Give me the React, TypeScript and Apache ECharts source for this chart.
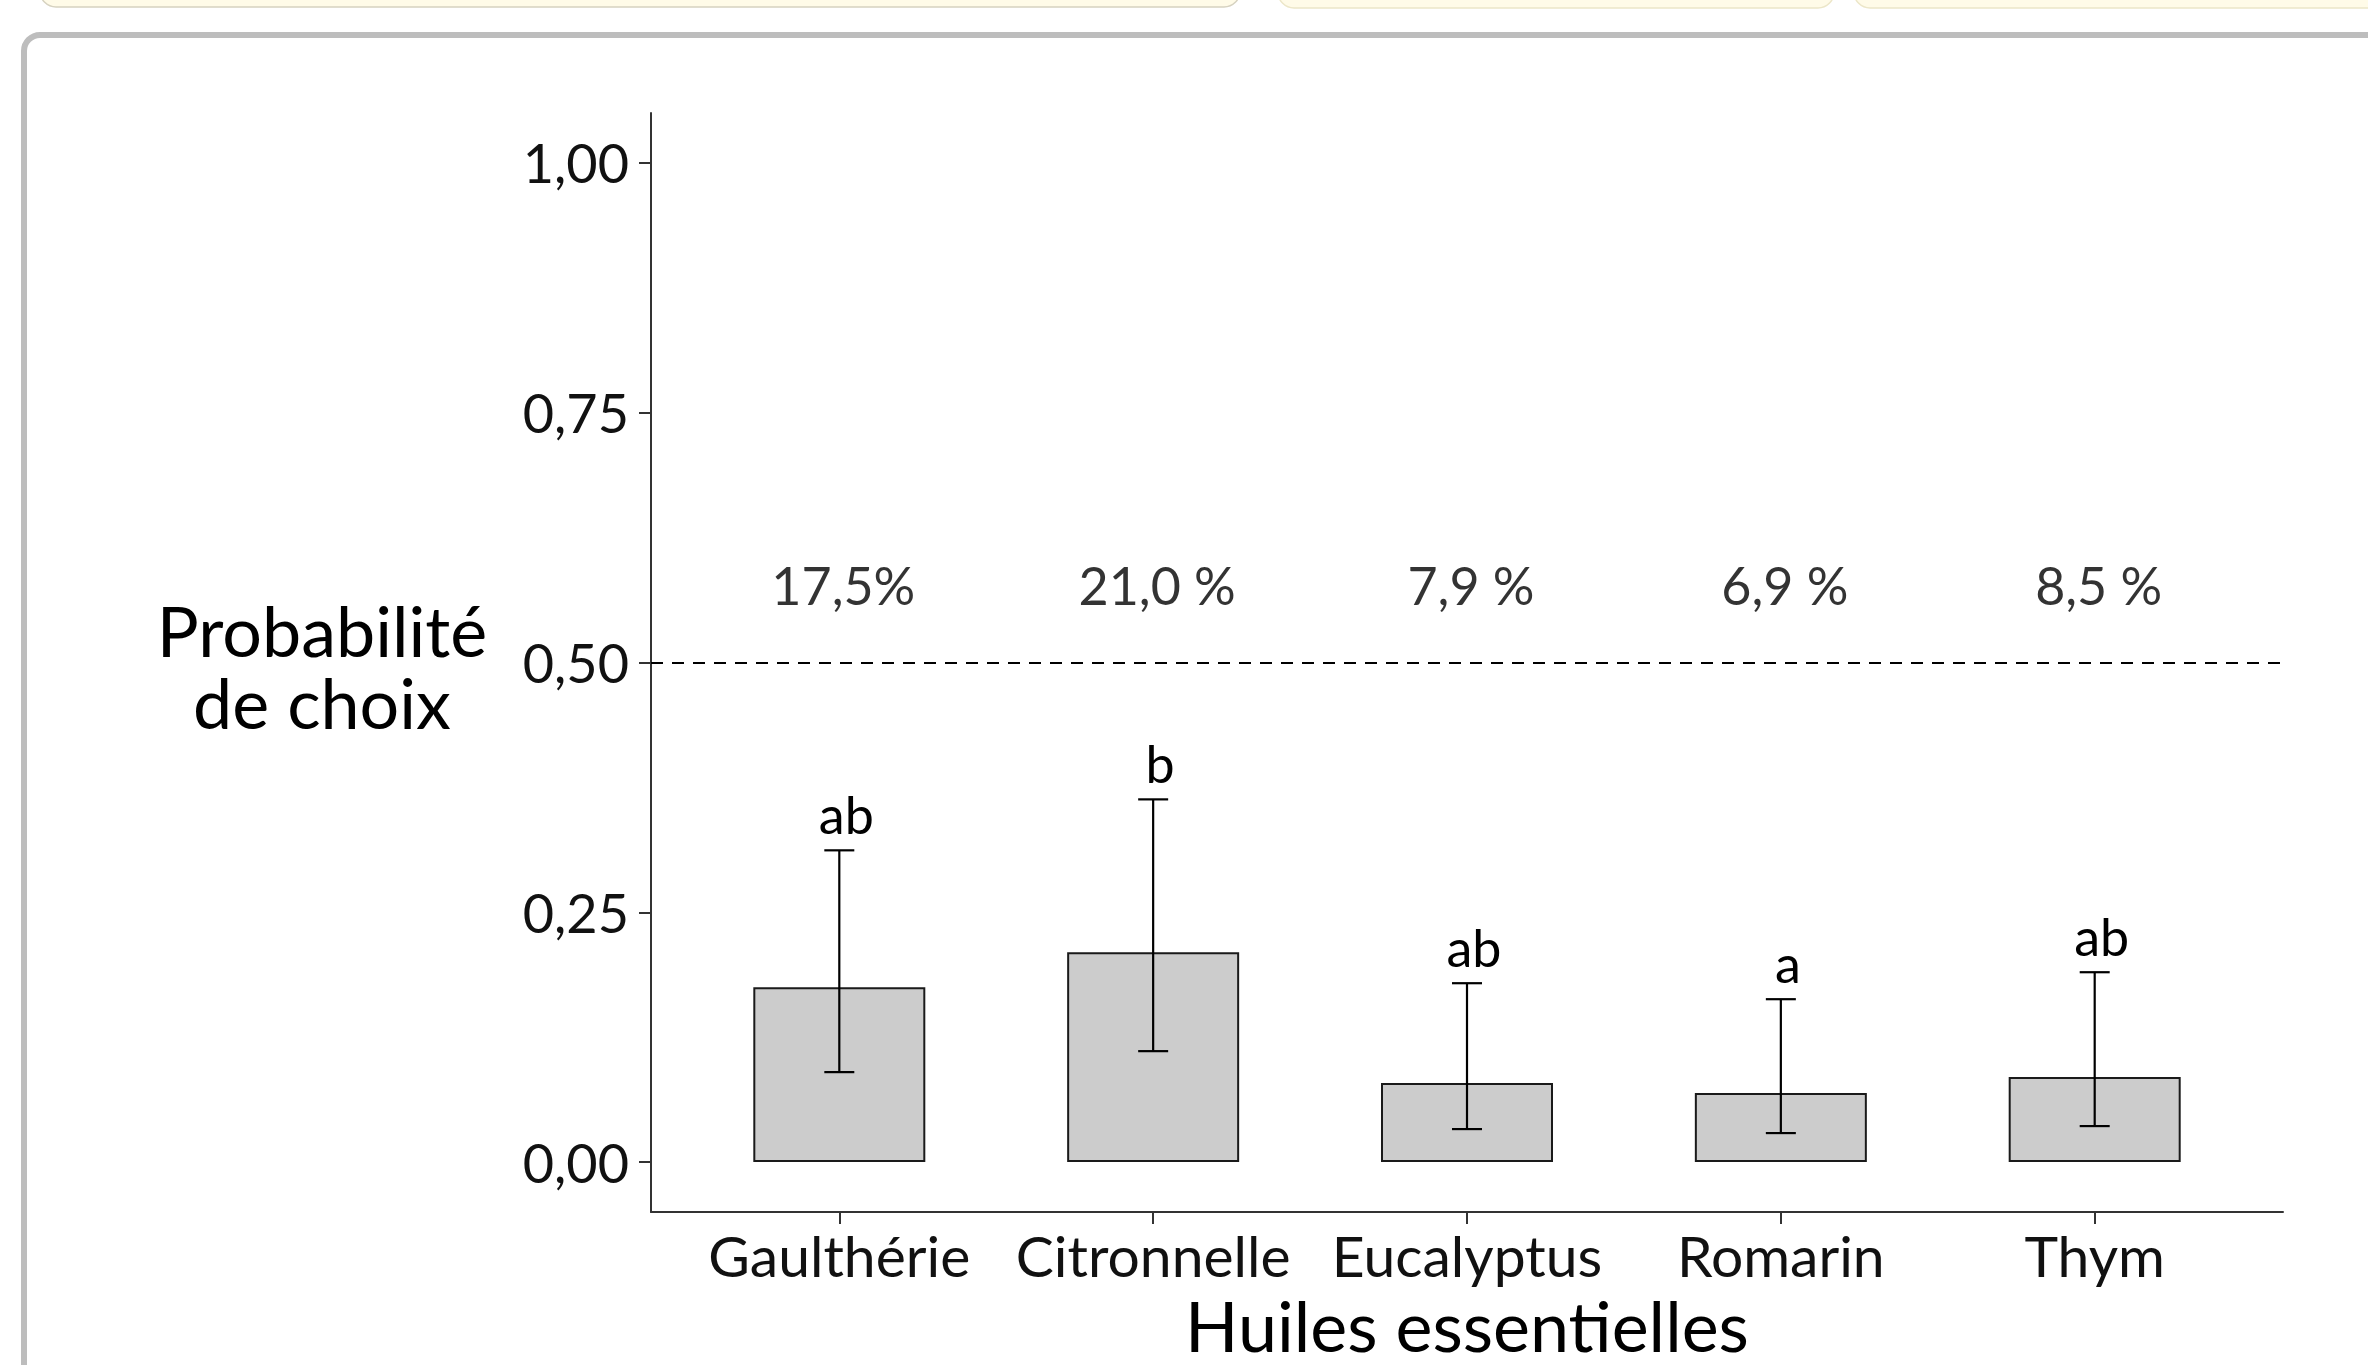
import React, { useEffect, useRef } from "react";
import * as echarts from "echarts";

const categories = ["Gaulthérie", "Citronnelle", "Eucalyptus", "Romarin", "Thym"];
const probabilities = [0.175, 0.21, 0.079, 0.069, 0.085];
const ciLower = [0.09, 0.111, 0.033, 0.029, 0.036];
const ciUpper = [0.312, 0.363, 0.179, 0.163, 0.19];
const groupLetters = ["ab", "b", "ab", "a", "ab"];
const percentLabels = ["17,5%", "21,0 %", "7,9 %", "6,9 %", "8,5 %"];
const yTicks = [0, 0.25, 0.5, 0.75, 1];
const yTickLabels = ["0,00", "0,25", "0,50", "0,75", "1,00"];
const referenceLevel = 0.5;
const percentRowLevel = 0.578;
const yTitle = "Probabilité\nde choix";
const xTitle = "Huiles essentielles";

const FONT = "Lato";
const catIndex = categories.map((c, i) => i);

export default function App() {
  const ref = useRef<HTMLDivElement>(null);

  useEffect(() => {
    document.body.style.margin = "0";
    const chart = echarts.init(ref.current!, null, { renderer: "svg" });

    const option: any = {
      animation: false,
      backgroundColor: "#ffffff",
      textStyle: { fontFamily: FONT },
      grid: { left: 651, right: 85, top: 113, bottom: 149, containLabel: false },
      graphic: [
        {
          type: "rect",
          z: -10,
          shape: { x: 40, y: -30, width: 1200, height: 37, r: 16 },
          style: { fill: "#fffbe8", stroke: "#d6d2c0", lineWidth: 1.5 },
        },
        {
          type: "rect",
          z: -10,
          shape: { x: 1278, y: -30, width: 556, height: 38, r: 16 },
          style: { fill: "#fffbe8", stroke: "#ece6c8", lineWidth: 1.5 },
        },
        {
          type: "rect",
          z: -10,
          shape: { x: 1854, y: -30, width: 560, height: 38, r: 16 },
          style: { fill: "#fffbe8", stroke: "#ece6c8", lineWidth: 1.5 },
        },
        {
          type: "rect",
          z: -10,
          shape: { x: 24, y: 35, width: 2420, height: 1420, r: 16 },
          style: { fill: "none", stroke: "#bdbdbd", lineWidth: 6 },
        },
        {
          type: "text",
          x: 322,
          y: 666,
          style: {
            text: yTitle,
            fontFamily: FONT,
            fontSize: 70,
            lineHeight: 72,
            fill: "#000",
            textAlign: "center",
            textVerticalAlign: "middle",
          },
        },
      ],
      xAxis: {
        type: "value",
        min: -0.6,
        max: 4.6,
        name: xTitle,
        nameLocation: "middle",
        nameGap: 78,
        nameTextStyle: { fontFamily: FONT, fontSize: 70, color: "#000" },
        axisLine: { show: true, onZero: false, lineStyle: { color: "#333", width: 2 } },
        axisTick: {
          show: true,
          length: 12,
          customValues: catIndex,
          lineStyle: { color: "#333", width: 2 },
        },
        axisLabel: {
          customValues: catIndex,
          fontFamily: FONT,
          fontSize: 57,
          color: "#111",
          margin: 14,
          formatter: (v: number) => categories[Math.round(v)] ?? "",
        },
        splitLine: { show: false },
      },
      yAxis: {
        type: "value",
        min: -0.05,
        max: 1.05,
        axisLine: { show: true, onZero: false, lineStyle: { color: "#333", width: 2 } },
        axisTick: {
          show: true,
          length: 12,
          customValues: yTicks,
          lineStyle: { color: "#333", width: 2 },
        },
        axisLabel: {
          customValues: yTicks,
          fontFamily: FONT,
          fontSize: 54,
          color: "#111",
          margin: 22,
          formatter: (v: number) => {
            const idx = yTicks.findIndex((t) => Math.abs(t - v) < 1e-9);
            return idx >= 0 ? yTickLabels[idx] : "";
          },
        },
        splitLine: { show: false },
      },
      series: [
        {
          type: "bar",
          data: catIndex.map((i) => [i, probabilities[i]]),
          barWidth: 172,
          itemStyle: { color: "#cccccc", borderColor: "#1a1a1a", borderWidth: 2 },
          z: 2,
          markLine: {
            silent: true,
            symbol: "none",
            label: { show: false },
            lineStyle: { color: "#000", width: 2, type: [12, 9] },
            data: [{ yAxis: referenceLevel }],
          },
        },
        {
          type: "custom",
          z: 5,
          data: catIndex.map((i) => [i, ciLower[i], ciUpper[i]]),
          renderItem: (params: any, api: any) => {
            const i = api.value(0);
            const lo = api.coord([i, api.value(1)]);
            const hi = api.coord([i, api.value(2)]);
            const half = 15;
            const st = { stroke: "#000", lineWidth: 2.2 };
            return {
              type: "group",
              children: [
                { type: "line", shape: { x1: hi[0], y1: hi[1], x2: lo[0], y2: lo[1] }, style: st },
                { type: "line", shape: { x1: hi[0] - half, y1: hi[1], x2: hi[0] + half, y2: hi[1] }, style: st },
                { type: "line", shape: { x1: lo[0] - half, y1: lo[1], x2: lo[0] + half, y2: lo[1] }, style: st },
                {
                  type: "text",
                  x: hi[0] + 7,
                  y: hi[1] - 10,
                  style: {
                    text: groupLetters[params.dataIndex],
                    fontFamily: FONT,
                    fontSize: 52,
                    fill: "#000",
                    textAlign: "center",
                    textVerticalAlign: "bottom",
                  },
                },
              ],
            };
          },
        },
        {
          type: "scatter",
          symbolSize: 0,
          z: 5,
          data: catIndex.map((i) => [i, percentRowLevel]),
          label: {
            show: true,
            position: "inside",
            offset: [4, 0],
            fontFamily: FONT,
            fontSize: 52,
            color: "#000",
            formatter: (p: any) => percentLabels[p.dataIndex],
          },
        },
      ],
    };

    chart.setOption(option);
    return () => chart.dispose();
  }, []);

  return (
    <div
      ref={ref}
      style={{ position: "fixed", left: 0, top: 0, width: 2368, height: 1365, background: "#fff" }}
    />
  );
}
